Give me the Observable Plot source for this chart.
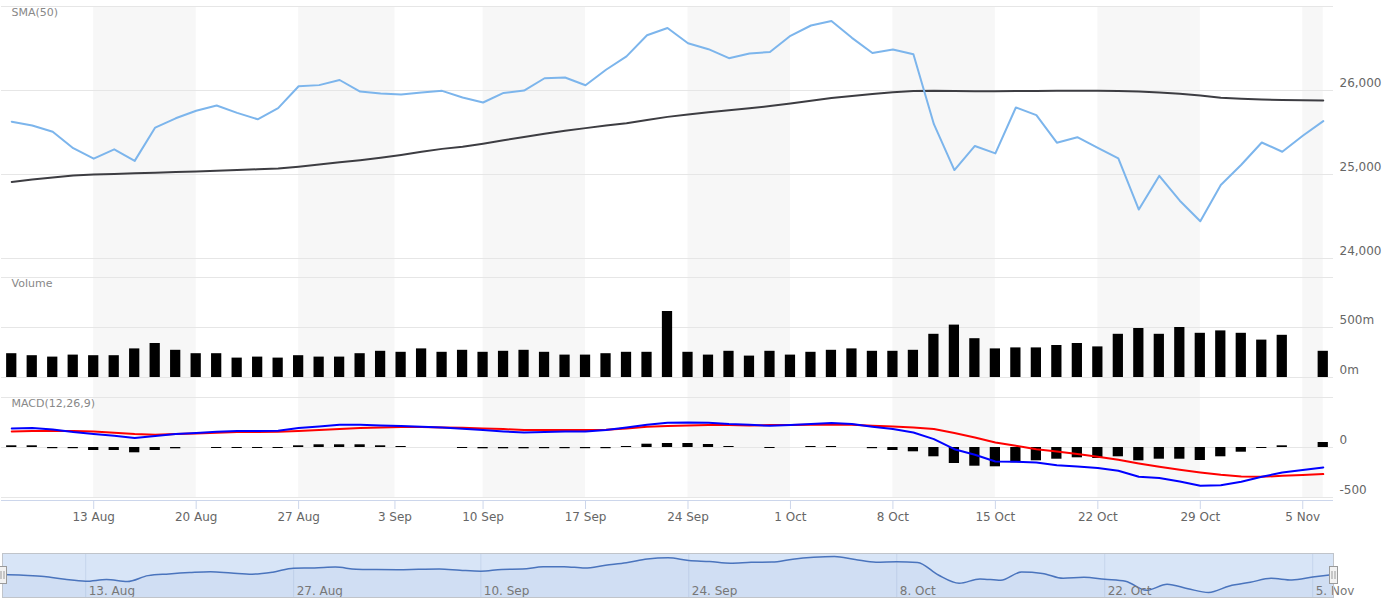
<!DOCTYPE html>
<html>
<head>
<meta charset="utf-8">
<script src="https://cdn.jsdelivr.net/npm/d3@7"></script>
<script src="https://cdn.jsdelivr.net/npm/@observablehq/plot@0.6"></script>
<style>
  body { margin: 0; background: #fff; }
  #chart { position: relative; width: 1384px; height: 598px; overflow: hidden; font-family: "DejaVu Sans", sans-serif; }
  #chart svg { position: absolute; left: 0; }
</style>
</head>
<body>
<div id="chart"></div>
<script>
// ---------- data (trading days, Aug 7 – Nov 6 2018) ----------
const dates = [
  "2018-08-07","2018-08-08","2018-08-09","2018-08-10",
  "2018-08-13","2018-08-14","2018-08-15","2018-08-16","2018-08-17",
  "2018-08-20","2018-08-21","2018-08-22","2018-08-23","2018-08-24",
  "2018-08-27","2018-08-28","2018-08-29","2018-08-30","2018-08-31",
  "2018-09-04","2018-09-05","2018-09-06","2018-09-07",
  "2018-09-10","2018-09-11","2018-09-12","2018-09-13","2018-09-14",
  "2018-09-17","2018-09-18","2018-09-19","2018-09-20","2018-09-21",
  "2018-09-24","2018-09-25","2018-09-26","2018-09-27","2018-09-28",
  "2018-10-01","2018-10-02","2018-10-03","2018-10-04","2018-10-05",
  "2018-10-08","2018-10-09","2018-10-10","2018-10-11","2018-10-12",
  "2018-10-15","2018-10-16","2018-10-17","2018-10-18","2018-10-19",
  "2018-10-22","2018-10-23","2018-10-24","2018-10-25","2018-10-26",
  "2018-10-29","2018-10-30","2018-10-31","2018-11-01","2018-11-02",
  "2018-11-05","2018-11-06"
];
const close = [
  25629, 25584, 25509, 25313, 25188, 25300, 25162, 25559, 25669, 25759,
  25822, 25734, 25657, 25790, 26050, 26064, 26125, 25987, 25965, 25952,
  25975, 25996, 25917, 25857, 25971, 25999, 26146, 26155, 26062, 26247,
  26406, 26657, 26744, 26562, 26492, 26385, 26440, 26458, 26651, 26774,
  26828, 26627, 26447, 26487, 26431, 25599, 25053, 25340, 25251, 25798,
  25707, 25379, 25444, 25317, 25191, 24583, 24985, 24688, 24443, 24875,
  25116, 25381, 25271, 25462, 25635
];
const sma50 = [
  24911, 24941, 24965, 24988, 25000, 25006, 25014, 25021, 25029, 25036,
  25045, 25054, 25062, 25070, 25092, 25118, 25145, 25171, 25200, 25233,
  25270, 25305, 25330, 25367, 25408, 25447, 25484, 25520, 25552, 25582,
  25611, 25650, 25686, 25715, 25741, 25764, 25788, 25815, 25845, 25877,
  25910, 25934, 25957, 25978, 25995, 25998, 25994, 25990, 25990, 25993,
  25995, 25996, 25996, 25996, 25995, 25987, 25976, 25960, 25940, 25913,
  25903, 25893, 25886, 25883, 25881
];
// volume in millions
const volume = [
  238, 218, 204, 224, 218, 218, 286, 340, 272, 238,
  238, 194, 204, 194, 218, 204, 204, 238, 262, 252,
  286, 252, 272, 252, 262, 272, 252, 224, 224, 238,
  252, 252, 660, 252, 224, 262, 214, 262, 224, 252,
  272, 286, 262, 262, 272, 432, 524, 388, 286, 296,
  296, 320, 340, 306, 432, 490, 432, 500, 442, 466,
  442, 374, 422, null, 262
];
const macdLine = [
  190, 194, 180, 154, 134, 117, 94, 114, 134, 144,
  157, 164, 164, 167, 194, 210, 227, 227, 220, 214,
  207, 200, 188, 174, 160, 150, 154, 160, 160, 174,
  200, 227, 247, 250, 247, 234, 227, 217, 224, 234,
  244, 234, 207, 184, 150, 84, -17, -73, -140, -143,
  -150, -177, -190, -206, -233, -293, -306, -340, -383, -377,
  -343, -293, -250, -226, -200
];
const signalLine = [
  160, 164, 164, 164, 160, 147, 134, 127, 134, 140,
  147, 154, 154, 157, 164, 174, 184, 194, 200, 204,
  204, 200, 197, 190, 184, 174, 174, 174, 174, 177,
  190, 207, 214, 220, 224, 224, 220, 224, 224, 227,
  227, 227, 217, 210, 200, 184, 144, 100, 50, 17,
  -17, -40, -66, -93, -123, -160, -193, -223, -250, -273,
  -290, -293, -283, -276, -266
];
const histogram = [
  17, 17, -12, -12, -30, -30, -53, -30, -13, 0,
  -10, -10, -10, -10, 17, 27, 27, 27, 17, 10,
  0, 0, -10, -13, -13, -13, -12, -12, -12, -12,
  10, 33, 40, 40, 30, 10, 0, -10, 0, 10,
  10, 0, -12, -30, -43, -93, -160, -187, -193, -153,
  -133, -117, -103, -110, -93, -133, -117, -117, -130, -93,
  -47, -10, 17, null, 50
];
// weekly x-axis ticks (position in trading-day index; 3 Sep was a holiday)
const weekTickPos = [4, 9, 14, 18.7, 23, 28, 33, 38, 43, 48, 53, 58, 63];
const weekTickLabels = ["13 Aug","20 Aug","27 Aug","3 Sep","10 Sep","17 Sep","24 Sep","1 Oct","8 Oct","15 Oct","22 Oct","29 Oct","5 Nov"];
const navTickPos = [4, 14, 23, 33, 43, 53, 63];
const navTickLabels = ["13. Aug","27. Aug","10. Sep","24. Sep","8. Oct","22. Oct","5. Nov"];
const priceTicks = [24000, 25000, 26000, 27000];
const priceLabelTicks = [24000, 25000, 26000];
const volumeTicks = [0, 500, 1000];
const volumeLabelTicks = [0, 500];
const macdTicks = [-500, 0, 500];
const macdLabelTicks = [-500, 0];

// ---------- build ----------
const rows = dates.map((d, i) => ({
  i, date: d, close: close[i], sma: sma50[i], volume: volume[i],
  macd: macdLine[i], signal: signalLine[i], hist: histogram[i]
}));
const n = dates.length;
const weekLabel = new Map(weekTickPos.map((p, k) => [p, weekTickLabels[k]]));
const bandEdges = [...weekTickPos, n - 1];
const bands = [];
for (let k = 0; k < weekTickPos.length; k += 2) bands.push({x1: bandEdges[k], x2: bandEdges[k + 1]});
const navTicks = navTickPos.map((p, k) => ({p, label: navTickLabels[k]}));

const chart = document.getElementById("chart");
const baseStyle = {background: "transparent", fontFamily: "DejaVu Sans, sans-serif", fontSize: "12px", color: "#666", overflow: "visible"};
const xMain = {domain: [-0.5, n - 0.5], axis: null};
const fmt = d => d.toLocaleString("en-US");
const half = 0.25;
function place(svg, top) { svg.style.top = top + "px"; chart.append(svg); }

// background bands + x axis
place(Plot.plot({
  width: 1384, height: 530, marginTop: 6, marginBottom: 33, marginLeft: 1, marginRight: 51,
  style: baseStyle, x: xMain, y: {domain: [0, 1], axis: null},
  marks: [
    Plot.rect(bands, {x1: "x1", x2: "x2", fill: "#f7f7f7"}),
    Plot.ruleY([0], {dy: 3, stroke: "#ccd6eb"}),
    Plot.axisX(weekTickPos, {tickFormat: d => weekLabel.get(d), tickSize: 9, tickPadding: 3, dy: 3,
      stroke: "#ccd6eb", fill: "#666", fontSize: 12, label: null})
  ]
}), 0);

// price pane
place(Plot.plot({
  width: 1384, height: 262, marginTop: 6, marginBottom: 4, marginLeft: 1, marginRight: 51,
  style: baseStyle, x: xMain, y: {domain: [24000, 27000], label: null},
  marks: [
    Plot.ruleY(priceTicks, {stroke: "#e6e6e6"}),
    Plot.axisY(priceLabelTicks, {anchor: "right", tickSize: 0, tickPadding: 6, dy: -7, tickFormat: fmt, fill: "#666", fontSize: 12, label: null}),
    Plot.line(rows, {x: "i", y: "sma", stroke: "#3d3d42", strokeWidth: 2}),
    Plot.line(rows, {x: "i", y: "close", stroke: "#7cb5ec", strokeWidth: 2}),
    Plot.text(["SMA(50)"], {text: d => d, frameAnchor: "top-left", dx: 10, dy: 2, fill: "#888", fontSize: 11})
  ]
}), 0);

// volume pane
place(Plot.plot({
  width: 1384, height: 110, marginTop: 7, marginBottom: 3, marginLeft: 1, marginRight: 51,
  style: baseStyle, x: xMain, y: {domain: [0, 1000], label: null},
  marks: [
    Plot.ruleY(volumeTicks, {stroke: "#e6e6e6"}),
    Plot.axisY(volumeLabelTicks, {anchor: "right", tickSize: 0, tickPadding: 6, dy: -7, tickFormat: d => d + "m", fill: "#666", fontSize: 12, label: null}),
    Plot.rect(rows.filter(d => d.volume != null), {x1: d => d.i - half, x2: d => d.i + half, y1: 0, y2: "volume", fill: "#000"}),
    Plot.text(["Volume"], {text: d => d, frameAnchor: "top-left", dx: 10, dy: 2, fill: "#888", fontSize: 11})
  ]
}), 270);

// MACD pane
place(Plot.plot({
  width: 1384, height: 110, marginTop: 7, marginBottom: 3, marginLeft: 1, marginRight: 51,
  style: baseStyle, x: xMain, y: {domain: [-500, 500], label: null},
  marks: [
    Plot.ruleY(macdTicks, {stroke: "#e6e6e6"}),
    Plot.axisY(macdLabelTicks, {anchor: "right", tickSize: 0, tickPadding: 6, dy: -7, tickFormat: fmt, fill: "#666", fontSize: 12, label: null}),
    Plot.rect(rows.filter(d => d.hist != null), {x1: d => d.i - half, x2: d => d.i + half, y1: 0, y2: "hist", fill: "#000"}),
    Plot.line(rows, {x: "i", y: "signal", stroke: "#ff0000", strokeWidth: 2}),
    Plot.line(rows, {x: "i", y: "macd", stroke: "#0000ff", strokeWidth: 2}),
    Plot.text(["MACD(12,26,9)"], {text: d => d, frameAnchor: "top-left", dx: 10, dy: 2, fill: "#888", fontSize: 11})
  ]
}), 390);

// navigator
const [lo, hi] = d3.extent(close);
const navDomain = [lo - (hi - lo) * 0.14, hi + (hi - lo) * 0.083];
const ends = [0, n - 1];
place(Plot.plot({
  width: 1384, height: 48, marginTop: 3, marginBottom: 1, marginLeft: 2, marginRight: 51,
  style: baseStyle, x: {domain: [0, n - 1], axis: null}, y: {domain: navDomain, axis: null},
  marks: [
    Plot.frame({fill: "#d8e5f7"}),
    Plot.ruleX(navTickPos, {stroke: "#c6d5ec"}),
    Plot.areaY(rows, {x: "i", y1: navDomain[0], y2: "close", curve: "monotone-x", fill: "#335cad", fillOpacity: 0.05}),
    Plot.line(rows, {x: "i", y: "close", curve: "monotone-x", stroke: "#4a74bd", strokeWidth: 1.5}),
    Plot.text(navTicks, {x: "p", text: "label", frameAnchor: "bottom", textAnchor: "start", dx: 3, dy: -3, fill: "#777", fontSize: 12}),
    Plot.frame({stroke: "#c0c4ca"}),
    Plot.tickX(ends, {x: d => d, stroke: "#9a9a9a", strokeWidth: 9, insetTop: 13, insetBottom: 13}),
    Plot.tickX(ends, {x: d => d, stroke: "#f2f2f2", strokeWidth: 7, insetTop: 14, insetBottom: 14}),
    Plot.tickX(ends, {x: d => d, stroke: "#9a9a9a", strokeWidth: 1, insetTop: 18, insetBottom: 18, dx: -1.5}),
    Plot.tickX(ends, {x: d => d, stroke: "#9a9a9a", strokeWidth: 1, insetTop: 18, insetBottom: 18, dx: 1.5})
  ]
}), 550);
</script>
</body>
</html>
